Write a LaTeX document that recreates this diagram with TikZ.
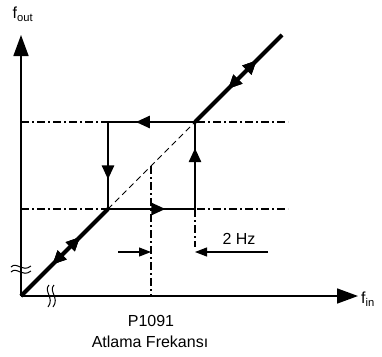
\documentclass[tikz,border=0pt]{standalone}
\usepackage{fontspec}
\setmainfont{Liberation Sans}
\usetikzlibrary{arrows.meta,decorations.markings}

\tikzset{
  axis/.style={line width=1.6pt, -{Triangle[length=21pt,width=15pt]}},
  curve/.style={line width=4pt},
  loopline/.style={line width=2.6pt},
  guide/.style={line width=1.2pt, dash pattern=on 8pt off 3pt on 2pt off 3pt},
  tip/.style={postaction={decorate}, decoration={markings,
      mark=at position #1 with {\arrow{Triangle[length=14pt,width=12pt]}}}},
  backtip/.style={postaction={decorate}, decoration={markings,
      mark=at position #1 with {\arrowreversed{Triangle[length=14pt,width=12pt]}}}},
}

\begin{document}
\begin{tikzpicture}[x=1pt, y=-1pt, every node/.style={font=\fontsize{16}{19}\selectfont}]
  \useasboundingbox (0,0) rectangle (382,356);

  % corners
  \coordinate (o) at (21,296);
  \coordinate (bl) at (108,209);
  \coordinate (br) at (195,209);
  \coordinate (tr) at (195,122);
  \coordinate (tl) at (108,122);
  \coordinate (end) at (282,35);

  % axes
  \draw[axis] (o) -- (21,35) coordinate (ytip);
  \draw[axis] (o) -- (358,296) coordinate (xtip);
  \node (fout) at (23,14) {f\textsubscript{out}};
  \node (fin) at (368,299) {f\textsubscript{in}};

  % guide lines
  \draw[guide] (21,122) coordinate (gl1) -- (288,122) coordinate (gr1);
  \draw[guide] (21,209) coordinate (gl2) -- (288,209) coordinate (gr2);
  \draw[guide] (151,166) coordinate (pm) -- (151,296) coordinate (pa);
  \draw[guide] (br) -- (195,247) coordinate (bd);
  \draw[line width=1pt, dash pattern=on 6pt off 4pt] (bl) -- (tr);

  % hysteresis loop
  \draw[loopline, tip=0.68] (tr) -- (tl);
  \draw[loopline, tip=0.66] (tl) -- (bl);
  \draw[loopline, tip=0.66] (bl) -- (br);
  \draw[loopline, tip=0.70] (br) -- (tr);

  % characteristic
  \draw[curve, tip=0.68, backtip=0.36] (o) -- (bl);
  \draw[curve, tip=0.71, backtip=0.38] (tr) -- (end);

  % axis breaks
  \draw[line width=1pt] (11,267) .. controls (17,261) and (22,273) .. (31,266);
  \draw[line width=1pt] (11,272) .. controls (17,266) and (22,278) .. (31,271);
  \draw[line width=1pt] (49,285) .. controls (43,291) and (55,298) .. (48,307);
  \draw[line width=1pt] (54,285) .. controls (48,291) and (60,298) .. (53,307);

  % jump width
  \coordinate (al) at (118,252);
  \coordinate (ar) at (268,252);
  \draw[line width=1.2pt, -{Triangle[length=12pt,width=9pt]}] (al) -- (151,252);
  \draw[line width=1.2pt, -{Triangle[length=12pt,width=9pt]}] (ar) -- (195,252);
  \node (hz) at (239,239) {2 Hz};

  \node (p) at (151,321) {P1091};
  \node (atl) at (150,342) {Atlama Frekansı};
\end{tikzpicture}
\end{document}
